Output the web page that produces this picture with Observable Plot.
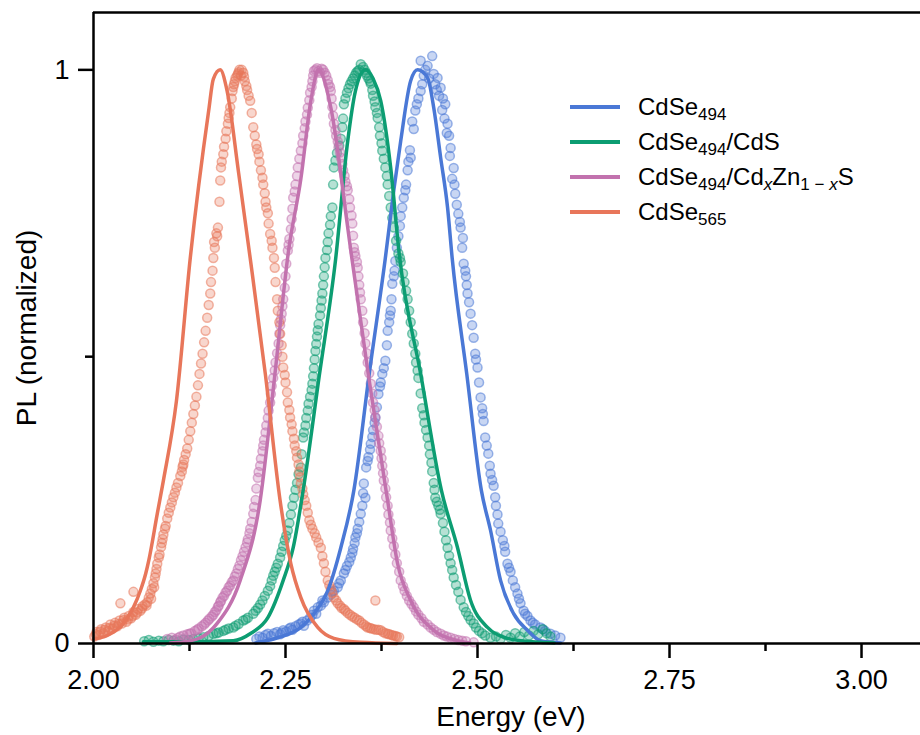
<!DOCTYPE html>
<html>
<head>
<meta charset="utf-8">
<script src="https://cdn.jsdelivr.net/npm/d3@7"></script>
<script src="https://cdn.jsdelivr.net/npm/@observablehq/plot@0.6"></script>
<style>
  body { margin: 0; background: #fff; }
  #chart { width: 920px; height: 735px; }
</style>
</head>
<body>
<div id="chart"></div>
<script>
// Photoluminescence spectra: measured points [energy (eV), normalized PL] and fitted curves.
const cdse494Dots = [[2.212,0.008],[2.216,0.012],[2.220,0.010],[2.224,0.015],[2.227,0.017],[2.231,0.013],[2.235,0.018],[2.239,0.020],[2.243,0.016],[2.247,0.023],[2.251,0.021],[2.255,0.026],[2.259,0.024],[2.263,0.030],[2.267,0.033],[2.270,0.035],[2.274,0.031],[2.278,0.040],[2.282,0.045],[2.287,0.057],[2.290,0.052],[2.292,0.063],[2.296,0.066],[2.300,0.072],[2.305,0.080],[2.309,0.085],[2.313,0.092],[2.318,0.098],[2.322,0.110],[2.326,0.122],[2.330,0.135],[2.335,0.150],[2.338,0.165],[2.341,0.185],[2.344,0.200],[2.348,0.226],[2.350,0.240],[2.352,0.279],[2.354,0.254],[2.355,0.307],[2.358,0.325],[2.361,0.348],[2.364,0.372],[2.367,0.394],[2.371,0.435],[2.374,0.455],[2.376,0.470],[2.380,0.493],[2.383,0.545],[2.385,0.560],[2.387,0.580],[2.389,0.627],[2.391,0.640],[2.393,0.667],[2.397,0.710],[2.400,0.745],[2.404,0.777],[2.407,0.800],[2.410,0.840],[2.413,0.847],[2.417,0.897],[2.419,0.929],[2.423,0.950],[2.426,0.963],[2.426,1.016],[2.430,0.990],[2.435,1.007],[2.441,1.024],[2.443,0.993],[2.445,0.975],[2.448,0.986],[2.452,0.969],[2.455,0.950],[2.458,0.940],[2.461,0.906],[2.463,0.885],[2.465,0.864],[2.469,0.829],[2.471,0.784],[2.475,0.749],[2.478,0.725],[2.481,0.707],[2.482,0.662],[2.485,0.640],[2.487,0.610],[2.491,0.575],[2.495,0.533],[2.497,0.505],[2.500,0.481],[2.504,0.429],[2.506,0.410],[2.508,0.388],[2.510,0.359],[2.514,0.331],[2.517,0.296],[2.521,0.275],[2.524,0.240],[2.527,0.209],[2.533,0.180],[2.536,0.160],[2.539,0.139],[2.543,0.125],[2.546,0.110],[2.552,0.087],[2.556,0.070],[2.560,0.057],[2.565,0.048],[2.569,0.040],[2.575,0.033],[2.582,0.028],[2.588,0.022],[2.595,0.017],[2.601,0.014],[2.608,0.010],
  [2.245,0.019],[2.257,0.028],[2.272,0.038],[2.285,0.050],[2.298,0.075],[2.311,0.090],[2.320,0.105],[2.328,0.128],[2.333,0.142],[2.337,0.158],[2.340,0.175],[2.343,0.192],[2.346,0.212],[2.351,0.262],[2.357,0.318],[2.360,0.338],[2.363,0.360],[2.366,0.385],[2.369,0.412],[2.373,0.448],[2.378,0.480],[2.382,0.520],[2.386,0.572],[2.388,0.600],[2.392,0.650],[2.395,0.690],[2.399,0.728],[2.402,0.760],[2.406,0.790],[2.409,0.825],[2.412,0.860],[2.415,0.910],[2.421,0.940],[2.428,0.975],[2.432,1.000],[2.437,0.985],[2.447,0.965],[2.450,0.955],[2.454,0.930],[2.457,0.915],[2.460,0.890],[2.464,0.850],[2.467,0.810],[2.470,0.800],[2.473,0.765],[2.477,0.735],[2.480,0.690],[2.484,0.650],[2.486,0.625],[2.489,0.595],[2.493,0.555],[2.498,0.495],[2.502,0.455],[2.507,0.400],[2.512,0.345],[2.516,0.310],[2.519,0.285],[2.523,0.255],[2.526,0.225],[2.530,0.195],[2.535,0.170],[2.541,0.132],[2.549,0.098],[2.554,0.078],[2.562,0.052],[2.572,0.036],[2.585,0.025]];

const cdsDots = [[2.066,0.004],[2.072,0.006],[2.078,0.003],[2.085,0.005],[2.091,0.004],[2.098,0.006],[2.104,0.005],[2.111,0.004],[2.117,0.007],[2.124,0.006],[2.130,0.008],[2.137,0.009],[2.143,0.011],[2.150,0.013],[2.156,0.017],[2.163,0.019],[2.169,0.022],[2.176,0.026],[2.182,0.028],[2.189,0.034],[2.195,0.040],[2.201,0.045],[2.208,0.052],[2.214,0.062],[2.220,0.075],[2.227,0.092],[2.232,0.110],[2.236,0.125],[2.240,0.139],[2.245,0.160],[2.249,0.180],[2.253,0.197],[2.257,0.225],[2.261,0.254],[2.265,0.280],[2.270,0.307],[2.273,0.359],[2.276,0.380],[2.279,0.406],[2.282,0.430],[2.285,0.453],[2.287,0.480],[2.289,0.510],[2.291,0.535],[2.293,0.557],[2.296,0.585],[2.298,0.610],[2.300,0.640],[2.302,0.672],[2.305,0.700],[2.308,0.730],[2.311,0.760],[2.312,0.800],[2.313,0.830],[2.317,0.855],[2.322,0.880],[2.325,0.915],[2.326,0.940],[2.330,0.960],[2.334,0.975],[2.338,0.985],[2.342,0.995],[2.346,1.000],[2.348,1.010],[2.351,1.005],[2.355,0.995],[2.358,0.985],[2.361,0.976],[2.364,0.955],[2.367,0.935],[2.370,0.916],[2.373,0.885],[2.376,0.859],[2.380,0.830],[2.383,0.800],[2.387,0.760],[2.391,0.725],[2.397,0.680],[2.400,0.665],[2.405,0.630],[2.409,0.600],[2.413,0.560],[2.417,0.523],[2.420,0.490],[2.423,0.463],[2.428,0.410],[2.431,0.385],[2.435,0.359],[2.438,0.330],[2.441,0.300],[2.443,0.280],[2.445,0.254],[2.449,0.240],[2.452,0.226],[2.457,0.195],[2.461,0.167],[2.465,0.140],[2.469,0.115],[2.475,0.090],[2.482,0.063],[2.488,0.048],[2.495,0.035],[2.502,0.022],[2.510,0.014],[2.517,0.010],[2.524,0.012],[2.530,0.008],[2.537,0.015],[2.543,0.010],[2.549,0.018],[2.555,0.012],[2.561,0.020],[2.567,0.014],[2.573,0.022],[2.579,0.016],[2.585,0.025],[2.590,0.018],[2.595,0.012],
  [2.160,0.018],[2.172,0.024],[2.185,0.031],[2.198,0.042],[2.211,0.057],[2.217,0.068],[2.223,0.083],[2.230,0.100],[2.234,0.118],[2.238,0.132],[2.243,0.150],[2.247,0.170],[2.251,0.188],[2.255,0.210],[2.259,0.240],[2.263,0.268],[2.267,0.295],[2.271,0.330],[2.274,0.368],[2.277,0.393],[2.280,0.418],[2.284,0.442],[2.286,0.466],[2.288,0.495],[2.290,0.522],[2.292,0.546],[2.295,0.572],[2.297,0.598],[2.299,0.625],[2.301,0.656],[2.304,0.686],[2.306,0.715],[2.309,0.745],[2.315,0.842],[2.320,0.868],[2.324,0.900],[2.328,0.950],[2.332,0.968],[2.336,0.980],[2.340,0.990],[2.344,0.998],[2.353,1.000],[2.356,0.990],[2.360,0.980],[2.363,0.965],[2.366,0.945],[2.369,0.925],[2.372,0.900],[2.375,0.872],[2.378,0.845],[2.382,0.815],[2.385,0.780],[2.389,0.742],[2.394,0.702],[2.399,0.672],[2.403,0.645],[2.407,0.615],[2.411,0.580],[2.415,0.540],[2.419,0.505],[2.422,0.476],[2.426,0.436],[2.430,0.398],[2.433,0.372],[2.437,0.345],[2.440,0.315],[2.444,0.268],[2.447,0.247],[2.451,0.233],[2.455,0.210],[2.459,0.180],[2.463,0.153],[2.467,0.128],[2.472,0.102],[2.478,0.076],[2.485,0.055],[2.491,0.041],[2.498,0.028],[2.506,0.018]];

const cdznsDots = [[2.096,0.008],[2.102,0.010],[2.107,0.007],[2.113,0.012],[2.117,0.014],[2.122,0.016],[2.127,0.018],[2.132,0.022],[2.137,0.026],[2.141,0.030],[2.146,0.036],[2.151,0.043],[2.156,0.050],[2.160,0.058],[2.163,0.066],[2.166,0.074],[2.170,0.083],[2.174,0.092],[2.178,0.101],[2.182,0.110],[2.186,0.122],[2.190,0.136],[2.194,0.152],[2.198,0.168],[2.201,0.182],[2.204,0.200],[2.208,0.226],[2.211,0.250],[2.214,0.289],[2.217,0.310],[2.220,0.335],[2.222,0.355],[2.225,0.380],[2.228,0.406],[2.231,0.435],[2.234,0.463],[2.237,0.490],[2.241,0.523],[2.243,0.555],[2.245,0.575],[2.247,0.600],[2.250,0.640],[2.253,0.685],[2.255,0.705],[2.258,0.740],[2.260,0.777],[2.263,0.800],[2.266,0.830],[2.270,0.859],[2.273,0.885],[2.276,0.910],[2.279,0.934],[2.282,0.960],[2.285,0.980],[2.287,0.998],[2.291,1.003],[2.295,0.995],[2.299,1.000],[2.303,0.990],[2.306,0.975],[2.309,0.963],[2.311,0.935],[2.313,0.906],[2.316,0.885],[2.319,0.865],[2.322,0.847],[2.325,0.825],[2.328,0.805],[2.331,0.790],[2.334,0.760],[2.337,0.732],[2.339,0.690],[2.341,0.675],[2.344,0.655],[2.346,0.625],[2.348,0.600],[2.351,0.560],[2.354,0.523],[2.357,0.490],[2.361,0.453],[2.364,0.420],[2.367,0.394],[2.371,0.362],[2.374,0.336],[2.376,0.310],[2.378,0.284],[2.381,0.255],[2.384,0.225],[2.387,0.197],[2.391,0.170],[2.395,0.140],[2.400,0.110],[2.405,0.092],[2.411,0.075],[2.417,0.063],[2.423,0.050],[2.430,0.038],[2.439,0.028],[2.447,0.020],[2.456,0.014],[2.465,0.010],[2.475,0.006],[2.485,0.004],[2.495,0.002],
  [2.110,0.010],[2.125,0.017],[2.135,0.024],[2.144,0.033],[2.149,0.040],[2.154,0.047],[2.158,0.055],[2.162,0.064],[2.165,0.072],[2.168,0.080],[2.172,0.089],[2.176,0.098],[2.180,0.107],[2.184,0.117],[2.188,0.130],[2.192,0.145],[2.196,0.160],[2.200,0.176],[2.203,0.192],[2.206,0.212],[2.209,0.238],[2.212,0.270],[2.215,0.299],[2.218,0.322],[2.221,0.345],[2.224,0.368],[2.227,0.393],[2.230,0.420],[2.232,0.449],[2.236,0.476],[2.239,0.506],[2.242,0.540],[2.244,0.565],[2.246,0.588],[2.249,0.620],[2.251,0.662],[2.254,0.695],[2.257,0.722],[2.259,0.758],[2.262,0.788],[2.265,0.815],[2.268,0.845],[2.272,0.872],[2.275,0.898],[2.278,0.922],[2.281,0.947],[2.284,0.970],[2.286,0.990],[2.289,1.000],[2.293,0.998],[2.297,1.002],[2.301,0.995],[2.305,0.982],[2.308,0.970],[2.310,0.950],[2.312,0.920],[2.315,0.895],[2.318,0.875],[2.321,0.856],[2.324,0.836],[2.327,0.815],[2.330,0.797],[2.333,0.775],[2.336,0.746],[2.338,0.711],[2.340,0.682],[2.343,0.665],[2.345,0.640],[2.347,0.612],[2.350,0.580],[2.353,0.541],[2.356,0.506],[2.359,0.471],[2.363,0.436],[2.366,0.407],[2.369,0.378],[2.372,0.349],[2.375,0.323],[2.377,0.297],[2.380,0.270],[2.383,0.240],[2.386,0.211],[2.389,0.183],[2.393,0.155],[2.398,0.125],[2.403,0.100],[2.408,0.083],[2.414,0.069],[2.420,0.056],[2.427,0.044],[2.435,0.033],[2.443,0.024],[2.452,0.017],[2.460,0.012],[2.470,0.008],[2.480,0.005]];

const cdse565Dots = [[2.001,0.012],[2.004,0.020],[2.007,0.015],[2.010,0.025],[2.013,0.018],[2.016,0.028],[2.019,0.022],[2.022,0.033],[2.025,0.026],[2.028,0.036],[2.031,0.030],[2.034,0.040],[2.037,0.035],[2.035,0.070],[2.040,0.045],[2.043,0.038],[2.046,0.048],[2.049,0.044],[2.052,0.055],[2.052,0.090],[2.055,0.050],[2.058,0.060],[2.061,0.057],[2.064,0.065],[2.067,0.068],[2.070,0.072],[2.072,0.080],[2.074,0.087],[2.076,0.095],[2.078,0.105],[2.080,0.115],[2.081,0.122],[2.083,0.139],[2.086,0.155],[2.089,0.175],[2.091,0.190],[2.094,0.205],[2.096,0.218],[2.100,0.237],[2.104,0.255],[2.108,0.272],[2.113,0.292],[2.116,0.308],[2.118,0.320],[2.122,0.340],[2.126,0.370],[2.130,0.400],[2.134,0.430],[2.138,0.470],[2.142,0.505],[2.146,0.545],[2.150,0.590],[2.153,0.630],[2.156,0.672],[2.157,0.700],[2.160,0.715],[2.162,0.725],[2.165,0.807],[2.166,0.830],[2.169,0.853],[2.172,0.880],[2.175,0.906],[2.176,0.916],[2.178,0.935],[2.181,0.963],[2.183,0.975],[2.185,0.986],[2.188,0.993],[2.190,1.000],[2.192,0.990],[2.195,0.995],[2.197,0.980],[2.200,0.965],[2.204,0.946],[2.208,0.900],[2.212,0.870],[2.215,0.853],[2.218,0.825],[2.221,0.800],[2.224,0.770],[2.227,0.750],[2.230,0.714],[2.233,0.690],[2.236,0.655],[2.239,0.600],[2.242,0.560],[2.245,0.520],[2.247,0.481],[2.250,0.455],[2.253,0.420],[2.256,0.394],[2.259,0.370],[2.262,0.345],[2.265,0.324],[2.268,0.300],[2.270,0.279],[2.273,0.260],[2.277,0.240],[2.281,0.215],[2.285,0.200],[2.290,0.185],[2.296,0.167],[2.300,0.140],[2.305,0.110],[2.309,0.095],[2.313,0.080],[2.318,0.070],[2.323,0.062],[2.328,0.057],[2.334,0.050],[2.340,0.045],[2.346,0.040],[2.352,0.033],[2.357,0.028],[2.362,0.026],[2.367,0.075],[2.368,0.024],[2.374,0.023],[2.380,0.018],[2.385,0.016],[2.390,0.014],[2.395,0.012],
  [2.003,0.016],[2.009,0.021],[2.015,0.024],[2.021,0.027],[2.027,0.031],[2.033,0.034],[2.039,0.041],[2.045,0.042],[2.051,0.048],[2.057,0.054],[2.063,0.061],[2.069,0.066],[2.075,0.078],[2.079,0.098],[2.082,0.130],[2.085,0.150],[2.088,0.168],[2.090,0.182],[2.093,0.200],[2.098,0.228],[2.102,0.246],[2.106,0.263],[2.110,0.280],[2.115,0.300],[2.117,0.312],[2.120,0.330],[2.124,0.355],[2.128,0.385],[2.132,0.415],[2.136,0.450],[2.140,0.488],[2.144,0.525],[2.148,0.568],[2.152,0.610],[2.155,0.650],[2.158,0.690],[2.161,0.710],[2.164,0.770],[2.167,0.840],[2.170,0.866],[2.173,0.893],[2.177,0.925],[2.180,0.950],[2.182,0.970],[2.184,0.980],[2.187,0.990],[2.189,0.996],[2.193,1.000],[2.196,0.988],[2.199,0.972],[2.202,0.955],[2.206,0.925],[2.210,0.885],[2.213,0.862],[2.216,0.840],[2.220,0.812],[2.223,0.785],[2.225,0.760],[2.228,0.732],[2.232,0.702],[2.235,0.672],[2.237,0.630],[2.240,0.580],[2.243,0.540],[2.246,0.500],[2.249,0.468],[2.252,0.438],[2.255,0.407],[2.258,0.382],[2.261,0.357],[2.264,0.335],[2.267,0.312],[2.269,0.290],[2.272,0.270],[2.275,0.250],[2.279,0.228],[2.283,0.207],[2.288,0.192],[2.293,0.176],[2.298,0.152],[2.302,0.125],[2.307,0.102],[2.311,0.088],[2.316,0.075],[2.321,0.066],[2.326,0.060],[2.331,0.053],[2.337,0.047],[2.343,0.042],[2.349,0.036],[2.355,0.030],[2.360,0.027],[2.365,0.025],[2.371,0.024],[2.377,0.020],[2.383,0.017],[2.388,0.015],[2.393,0.013],[2.398,0.011]];

const cdse494Fit = [[2.211,0.001],[2.240,0.010],[2.270,0.028],[2.287,0.052],[2.305,0.092],[2.322,0.167],[2.339,0.267],[2.359,0.470],[2.380,0.672],[2.391,0.790],[2.400,0.876],[2.413,0.981],[2.422,1.000],[2.435,0.986],[2.443,0.934],[2.452,0.847],[2.461,0.760],[2.467,0.672],[2.486,0.470],[2.505,0.267],[2.517,0.197],[2.530,0.110],[2.547,0.052],[2.565,0.023],[2.582,0.005],[2.608,0.001]];
const cdsFit = [[2.065,0.003],[2.120,0.003],[2.182,0.005],[2.205,0.018],[2.227,0.045],[2.247,0.110],[2.260,0.167],[2.273,0.267],[2.294,0.467],[2.315,0.667],[2.331,0.876],[2.341,0.963],[2.354,1.000],[2.364,0.985],[2.374,0.946],[2.387,0.829],[2.398,0.680],[2.426,0.470],[2.453,0.267],[2.474,0.167],[2.491,0.075],[2.513,0.028],[2.539,0.009],[2.582,0.002],[2.600,0.001]];
const cdznsFit = [[2.100,0.001],[2.113,0.002],[2.139,0.010],[2.161,0.035],[2.191,0.110],[2.217,0.249],[2.236,0.467],[2.254,0.685],[2.270,0.810],[2.283,0.946],[2.293,1.000],[2.309,0.934],[2.331,0.725],[2.335,0.685],[2.358,0.467],[2.383,0.249],[2.396,0.139],[2.413,0.075],[2.443,0.023],[2.474,0.005],[2.490,0.001]];
const cdse565Fit = [[2.000,0.008],[2.018,0.014],[2.039,0.035],[2.052,0.063],[2.061,0.092],[2.068,0.122],[2.072,0.145],[2.083,0.226],[2.091,0.284],[2.108,0.423],[2.126,0.672],[2.150,0.929],[2.156,0.984],[2.165,1.000],[2.174,0.963],[2.189,0.820],[2.204,0.672],[2.224,0.467],[2.243,0.249],[2.257,0.139],[2.270,0.080],[2.292,0.028],[2.313,0.009],[2.348,0.002],[2.395,0.000]];

const seriesKeys = ["CdSe494", "CdSe494/CdS", "CdSe494/CdxZn1-xS", "CdSe565"];
const seriesColors = ["#4a78d6", "#0c9d72", "#c272ae", "#e8765a"];
const seriesDots = [cdse494Dots, cdsDots, cdznsDots, cdse565Dots];
const seriesFits = [cdse494Fit, cdsFit, cdznsFit, cdse565Fit];
// Legend labels as runs of [text, style]: "" normal, "sub" subscript, "subi" italic subscript
const legendLabels = [
  [["CdSe", ""], ["494", "sub"]],
  [["CdSe", ""], ["494", "sub"], ["/CdS", ""]],
  [["CdSe", ""], ["494", "sub"], ["/Cd", ""], ["x", "subi"], ["Zn", ""], ["1 \u2212 ", "sub"], ["x", "subi"], ["S", ""]],
  [["CdSe", ""], ["565", "sub"]]
];

const xMajorTicks = [2.0, 2.25, 2.5, 2.75, 3.0];
const xMinorTicks = [2.125, 2.375, 2.625, 2.875];
const yMajorTicks = [0, 1];
const yMinorTicks = [0.5];

const dotRows = seriesKeys.flatMap((k, i) => seriesDots[i].map(([e, pl]) => ({series: k, energy: e, pl})));
const fitRows = seriesKeys.flatMap((k, i) => seriesFits[i].map(([e, pl]) => ({series: k, energy: e, pl})));

const font = "'Liberation Sans', Arial, Helvetica, sans-serif";

const chart = Plot.plot({
  width: 920,
  height: 735,
  marginLeft: 93,
  marginRight: 0,
  marginTop: 12,
  marginBottom: 92,
  x: {domain: [2.0, 3.0768]},
  y: {domain: [0, 1.1]},
  color: {domain: seriesKeys, range: seriesColors},
  style: {fontFamily: font, fontSize: "27px", color: "#000", background: "#fff", overflow: "visible"},
  marks: [
    Plot.dot(dotRows, {x: "energy", y: "pl", r: 4.5, fill: "series", stroke: "series",
      fillOpacity: 0.3, strokeOpacity: 0.55, strokeWidth: 1.5}),
    Plot.line(fitRows, {x: "energy", y: "pl", z: "series", stroke: "series",
      strokeWidth: 3.5, curve: "monotone-x"}),
    Plot.ruleX([2.0], {strokeWidth: 2.5}),
    Plot.ruleY([0], {strokeWidth: 2.5}),
    Plot.ruleY([1.1], {strokeWidth: 2.5}),
    Plot.axisX(xMajorTicks, {tickSize: 15, tickPadding: 11, tickFormat: d3.format(".2f"),
      strokeWidth: 2.5, fontSize: 27, label: null}),
    Plot.axisX(xMinorTicks, {tickSize: 8, tickFormat: () => "", strokeWidth: 2.5, label: null}),
    Plot.axisY(yMajorTicks, {tickSize: 15, tickPadding: 9, tickFormat: d => String(d),
      strokeWidth: 2.5, fontSize: 27, label: null}),
    Plot.axisY(yMinorTicks, {tickSize: 8, tickFormat: () => "", strokeWidth: 2.5, label: null}),
    Plot.text(["Energy (eV)"], {frameAnchor: "bottom", textAnchor: "middle", lineAnchor: "bottom",
      dx: 4, dy: 82, fontSize: 28}),
    Plot.text(["PL (normalized)"], {frameAnchor: "left", textAnchor: "middle", lineAnchor: "middle",
      dx: -66, rotate: -90, fontSize: 28})
  ]
});

// Legend with subscripted labels
const svg = d3.select(chart);
const legend = svg.append("g")
  .attr("font-family", font).attr("font-size", 24).attr("fill", "#000")
  .attr("text-anchor", "start");
seriesKeys.forEach((k, i) => {
  const y = 107 + i * 35;
  legend.append("line")
    .attr("x1", 570).attr("x2", 620).attr("y1", y).attr("y2", y)
    .attr("stroke", seriesColors[i]).attr("stroke-width", 4);
  const text = legend.append("text").attr("x", 638).attr("y", y + 8);
  let shifted = false;
  legendLabels[i].forEach(([t, style]) => {
    const span = text.append("tspan").text(t);
    const isSub = style === "sub" || style === "subi";
    if (isSub && !shifted) { span.attr("dy", 5); shifted = true; }
    else if (!isSub && shifted) { span.attr("dy", -5); shifted = false; }
    if (isSub) span.attr("font-size", 17);
    if (style === "subi") span.attr("font-style", "italic");
  });
});

document.getElementById("chart").appendChild(chart);
</script>
</body>
</html>
